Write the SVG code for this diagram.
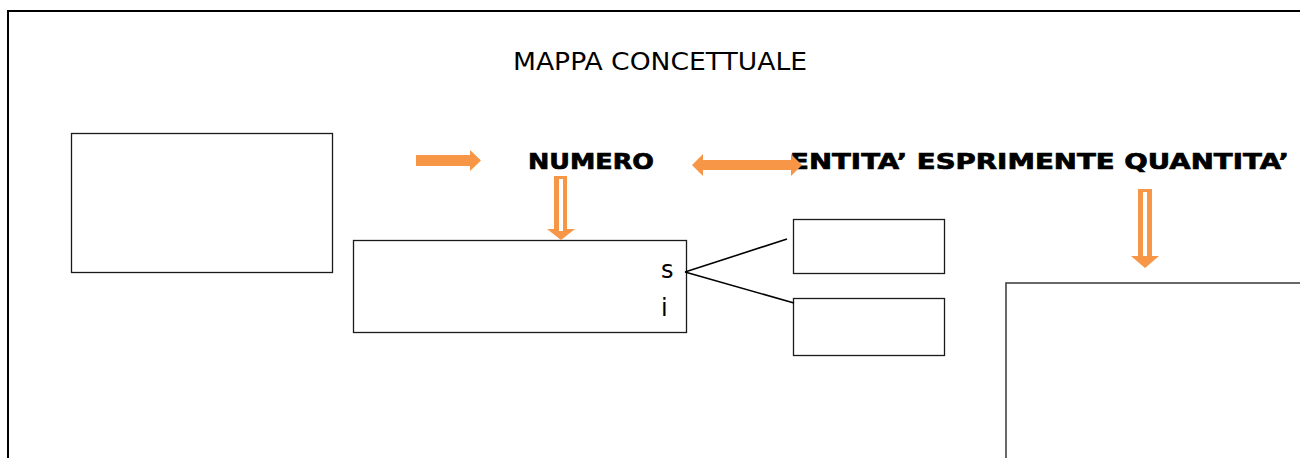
<svg xmlns="http://www.w3.org/2000/svg" width="1300" height="458" viewBox="0 0 1300 458">
  <style>
    .box { fill: #ffffff; stroke: #1a1a1a; stroke-width: 1.3; }
    .frame { fill: none; stroke: #000000; stroke-width: 2; }
    .title { font-family: "DejaVu Sans", Verdana, sans-serif; font-size: 24px; fill: #000; }
    .head { font-family: "DejaVu Sans", Verdana, sans-serif; font-size: 22px; font-weight: bold; fill: #000; stroke: #000; stroke-width: 0.7; }
    .lbl { font-family: "DejaVu Sans", Verdana, sans-serif; font-size: 24px; fill: #000; }
    .arrow { fill: #F79646; }
    .gap { fill: #ffffff; }
    .link { stroke: #000; stroke-width: 1.6; fill: none; }
  </style>

  <rect width="1300" height="458" fill="#ffffff"/>

  <!-- page frame -->
  <rect class="frame" x="8" y="11" width="1310" height="470"/>

  <text class="title" x="513" y="70" textLength="294" lengthAdjust="spacingAndGlyphs">MAPPA CONCETTUALE</text>

  <g id="node-left">
    <rect class="box" x="71.5" y="133.5" width="261" height="139"/>
  </g>

  <g id="node-numero">
    <text class="head" x="528" y="169" textLength="126" lengthAdjust="spacingAndGlyphs">NUMERO</text>
  </g>

  <g id="node-entita">
    <text class="head" x="790" y="169" textLength="499" lengthAdjust="spacingAndGlyphs">ENTITA’ ESPRIMENTE QUANTITA’</text>
  </g>

  <g id="node-middle">
    <rect class="box" x="353.5" y="240.5" width="333" height="92"/>
    <text class="lbl" x="661" y="278">s</text>
    <text class="lbl" x="661" y="316">i</text>
  </g>

  <g id="node-upper-right">
    <rect class="box" x="793.5" y="219.5" width="151" height="54"/>
  </g>

  <g id="node-lower-right">
    <rect class="box" x="793.5" y="298.5" width="151" height="57"/>
  </g>

  <g id="node-far-right">
    <rect x="1006" y="283" width="320" height="200" fill="#ffffff" stroke="#444444" stroke-width="1.6"/>
  </g>

  <g id="connectors">
    <!-- block arrow pointing right -->
    <polygon class="arrow" points="416,155 470,155 470,150 481,160.5 470,171 470,166 416,166"/>
    <!-- double-headed block arrow -->
    <polygon class="arrow" points="692,165 703,154 703,160 791,160 791,154 802,165 791,176 791,170 703,170 703,176"/>
    <!-- hollow arrow down from NUMERO -->
    <polygon class="arrow" points="554,176 567,176 567,229 575,229 561,240 547,229 554,229"/>
    <rect class="gap" x="559" y="179" width="4" height="52"/>
    <!-- hollow arrow down from ENTITA -->
    <polygon class="arrow" points="1138,189 1152,189 1152,256 1159,256 1145,268 1131,256 1138,256"/>
    <rect class="gap" x="1143" y="192" width="4" height="64"/>
    <!-- branch lines -->
    <line class="link" x1="685" y1="272" x2="787" y2="239"/>
    <line class="link" x1="685" y1="272" x2="794" y2="303"/>
  </g>
</svg>
